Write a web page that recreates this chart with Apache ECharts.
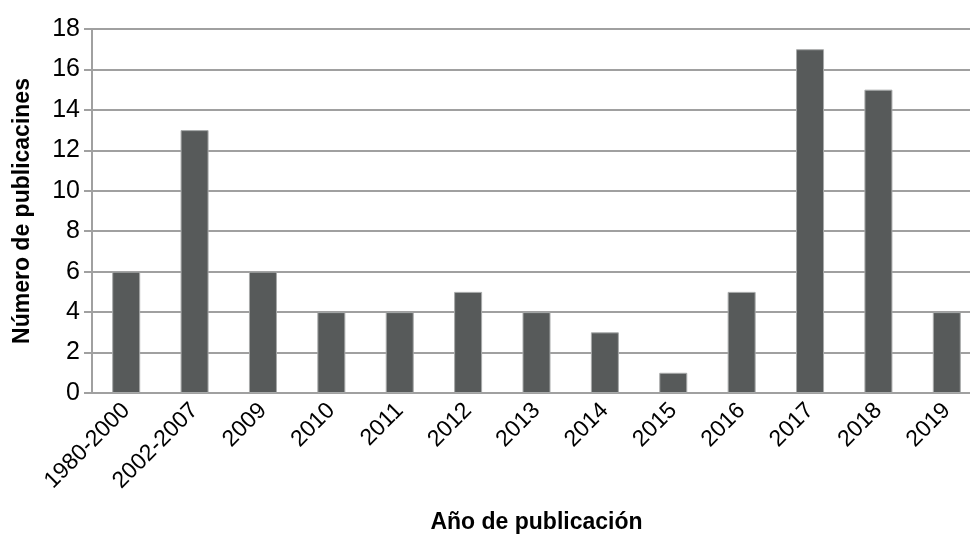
<!DOCTYPE html>
<html>
<head>
<meta charset="utf-8">
<script src="https://cdn.jsdelivr.net/npm/echarts@6/dist/echarts.min.js"></script>
<style>
html, body { margin: 0; padding: 0; background: #fff; }
#app { width: 970px; height: 540px; }
</style>
</head>
<body>
<div id="app"></div>
<script>
var categories = ['1980-2000', '2002-2007', '2009', '2010', '2011', '2012', '2013', '2014', '2015', '2016', '2017', '2018', '2019'];
var publicaciones = [6, 13, 6, 4, 4, 5, 4, 3, 1, 5, 17, 15, 4];

window.onload = function() {
    var myChart = echarts.init(document.getElementById('app'));
    var font = "'Liberation Sans Narrow', 'Arial Narrow', 'Liberation Sans', sans-serif";
    var option = {
        animation: false,
        grid: {
            left: 92,
            top: 29,
            width: 889,
            bottom: 147,
            outerBoundsMode: 'none'
        },
        xAxis: {
            type: 'category',
            data: categories,
            name: 'Año de publicación',
            nameLocation: 'middle',
            nameGap: 118,
            nameTextStyle: {
                fontFamily: font,
                fontWeight: 'bold',
                fontSize: 23,
                color: '#000'
            },
            axisLine: { lineStyle: { color: '#a0a0a0', width: 2 } },
            axisTick: { show: false },
            axisLabel: {
                rotate: 45,
                fontFamily: font,
                fontSize: 23,
                color: '#000',
                margin: 14
            }
        },
        yAxis: {
            type: 'value',
            min: 0,
            max: 18,
            interval: 2,
            name: 'Número de publicacines',
            nameLocation: 'middle',
            nameGap: 58,
            nameTextStyle: {
                fontFamily: font,
                fontWeight: 'bold',
                fontSize: 23,
                color: '#000'
            },
            axisLine: { show: true, lineStyle: { color: '#a0a0a0', width: 2 } },
            axisTick: { show: true, length: 8, lineStyle: { color: '#a0a0a0', width: 2 } },
            splitLine: { lineStyle: { color: '#a0a0a0', width: 2 } },
            axisLabel: {
                fontFamily: font,
                fontSize: 25,
                color: '#000',
                margin: 12
            }
        },
        series: [{
            type: 'bar',
            data: publicaciones,
            barWidth: 28,
            itemStyle: {
                color: '#575a5a',
                borderColor: '#a8aaaa',
                borderWidth: 1
            }
        }]
    };
    myChart.setOption(option);
};
</script>
</body>
</html>
